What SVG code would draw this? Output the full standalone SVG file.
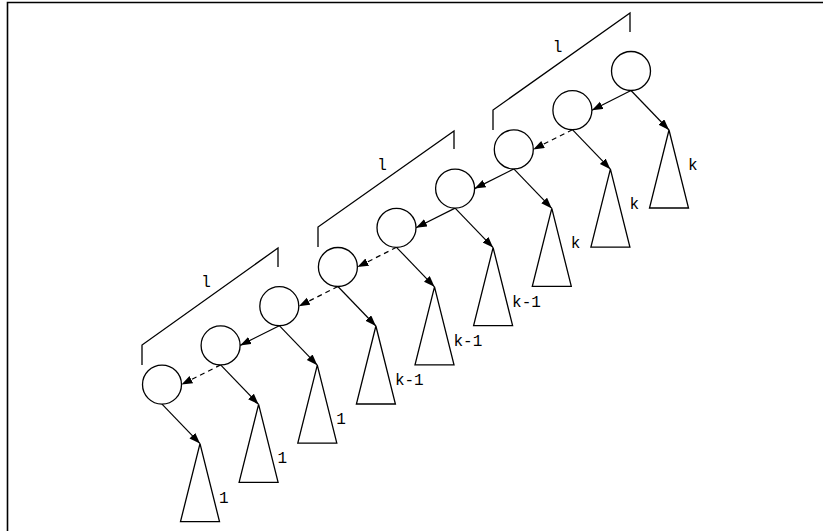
<svg xmlns="http://www.w3.org/2000/svg" width="824" height="531" viewBox="0 0 824 531">
<style>
.n{fill:#fff;stroke:#000;stroke-width:1.3}
.t{fill:#fff;stroke:#000;stroke-width:1.3}
.e{fill:none;stroke:#000;stroke-width:1.2}
.d{stroke-dasharray:5 4}
.b{fill:none;stroke:#000;stroke-width:1.3}
text{font-family:"Liberation Mono","Courier New",monospace;font-size:16px;fill:#000}
</style>
<defs>
<marker id="a" markerUnits="userSpaceOnUse" markerWidth="12" markerHeight="10" refX="11" refY="4" orient="auto">
<path d="M0,0 L11,4 L0,8 Z" fill="#000"/>
</marker>
</defs>
<rect width="824" height="531" fill="#fff"/>
<path d="M7.5,531 V2.5 H823" fill="none" stroke="#000" stroke-width="1.6"/>
<g id="brackets">
<path class="b" d="M493,130 V110 L630,13 V32"/>
<text x="557.5" y="52" text-anchor="middle">l</text>
<path class="b" d="M318,247 V227 L454,131 V149"/>
<text x="382" y="170" text-anchor="middle">l</text>
<path class="b" d="M142,365 V345 L278,248 V267"/>
<text x="206" y="287" text-anchor="middle">l</text>
</g>
<g id="connectors">
<line class="e" x1="631" y1="90.5" x2="591.9" y2="110.2" marker-end="url(#a)"/>
<line class="e d" x1="572.4" y1="129.7" x2="533.2" y2="149.4" marker-end="url(#a)"/>
<line class="e" x1="513.8" y1="168.9" x2="474.6" y2="188.6" marker-end="url(#a)"/>
<line class="e" x1="455.1" y1="208.1" x2="416" y2="227.8" marker-end="url(#a)"/>
<line class="e d" x1="396.5" y1="247.3" x2="357.4" y2="267" marker-end="url(#a)"/>
<line class="e d" x1="337.9" y1="286.5" x2="298.8" y2="306.2" marker-end="url(#a)"/>
<line class="e" x1="279.3" y1="325.7" x2="240.1" y2="345.4" marker-end="url(#a)"/>
<line class="e d" x1="220.6" y1="364.9" x2="181.5" y2="384.6" marker-end="url(#a)"/>
<line class="e" x1="631" y1="90.5" x2="669" y2="130" marker-end="url(#a)"/>
<line class="e" x1="572.4" y1="129.7" x2="610.4" y2="169.2" marker-end="url(#a)"/>
<line class="e" x1="513.8" y1="168.9" x2="551.8" y2="208.4" marker-end="url(#a)"/>
<line class="e" x1="455.1" y1="208.1" x2="493.1" y2="247.6" marker-end="url(#a)"/>
<line class="e" x1="396.5" y1="247.3" x2="434.5" y2="286.8" marker-end="url(#a)"/>
<line class="e" x1="337.9" y1="286.5" x2="375.9" y2="326" marker-end="url(#a)"/>
<line class="e" x1="279.3" y1="325.7" x2="317.3" y2="365.2" marker-end="url(#a)"/>
<line class="e" x1="220.6" y1="364.9" x2="258.6" y2="404.4" marker-end="url(#a)"/>
<line class="e" x1="162" y1="404.1" x2="200" y2="443.6" marker-end="url(#a)"/>
</g>
<g id="n1"><circle class="n" cx="631" cy="71" r="19.5"/></g>
<g id="n2"><circle class="n" cx="572.4" cy="110.2" r="19.5"/></g>
<g id="n3"><circle class="n" cx="513.8" cy="149.4" r="19.5"/></g>
<g id="n4"><circle class="n" cx="455.1" cy="188.6" r="19.5"/></g>
<g id="n5"><circle class="n" cx="396.5" cy="227.8" r="19.5"/></g>
<g id="n6"><circle class="n" cx="337.9" cy="267" r="19.5"/></g>
<g id="n7"><circle class="n" cx="279.3" cy="306.2" r="19.5"/></g>
<g id="n8"><circle class="n" cx="220.6" cy="345.4" r="19.5"/></g>
<g id="n9"><circle class="n" cx="162" cy="384.6" r="19.5"/></g>
<g id="t1"><path class="t" d="M669,130 L688.5,208 H649.5 Z"/><text x="688" y="170">k</text></g>
<g id="t2"><path class="t" d="M610.4,169.2 L629.9,247.2 H590.9 Z"/><text x="629.4" y="209.2">k</text></g>
<g id="t3"><path class="t" d="M551.8,208.4 L571.3,286.4 H532.3 Z"/><text x="570.8" y="248.4">k</text></g>
<g id="t4"><path class="t" d="M493.1,247.6 L512.6,325.6 H473.6 Z"/><text x="512.1" y="306.6">k-1</text></g>
<g id="t5"><path class="t" d="M434.5,286.8 L454,364.8 H415 Z"/><text x="453.5" y="345.8">k-1</text></g>
<g id="t6"><path class="t" d="M375.9,326 L395.4,404 H356.4 Z"/><text x="394.9" y="385">k-1</text></g>
<g id="t7"><path class="t" d="M317.3,365.2 L336.8,443.2 H297.8 Z"/><text x="336.3" y="424.2">1</text></g>
<g id="t8"><path class="t" d="M258.6,404.4 L278.1,482.4 H239.1 Z"/><text x="277.6" y="463.4">1</text></g>
<g id="t9"><path class="t" d="M200,443.6 L219.5,521.6 H180.5 Z"/><text x="219" y="502.6">1</text></g>
</svg>
